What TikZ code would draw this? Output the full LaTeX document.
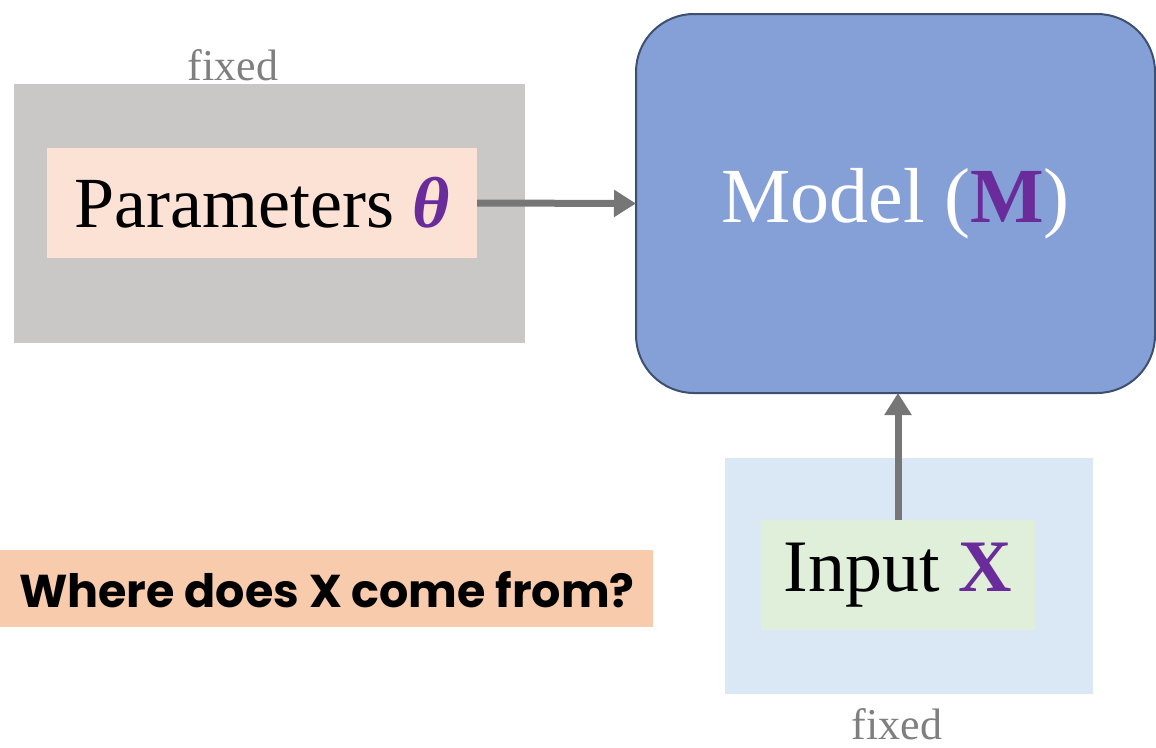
\documentclass[tikz,border=0pt]{standalone}
\usepackage{fontspec}
\setmainfont{Liberation Serif}
\newfontfamily\questionfont{Poppins}
\usetikzlibrary{arrows.meta}

\definecolor{panelgray}{HTML}{C9C8C7}
\definecolor{peach}{HTML}{FBE2D5}
\definecolor{modelblue}{HTML}{85A0D6}
\definecolor{modeledge}{HTML}{3E5070}
\definecolor{paleblue}{HTML}{DAE7F5}
\definecolor{palegreen}{HTML}{E0EFD9}
\definecolor{questionbg}{HTML}{F7CBAC}
\definecolor{accent}{HTML}{6A2C9A}
\definecolor{arrowgray}{HTML}{767676}
\definecolor{labelgray}{HTML}{7F7F7F}

\tikzset{
  panel/.style={draw=none, inner sep=0pt},
  labelbox/.style={draw=none, inner sep=0pt},
  fixedlabel/.style={text=labelgray, inner sep=0pt, font=\fontsize{44}{46}\selectfont},
  flow/.style={draw=arrowgray, line width=7pt,
    -{Triangle[length=22pt, width=26pt]}, shorten >=-1pt},
}

\begin{document}
\begin{tikzpicture}[x=1pt, y=-1pt]
  \useasboundingbox (0,0) rectangle (1156,747);

  % parameter block
  \node[panel, fill=panelgray, minimum width=511pt, minimum height=259pt]
    (paramsbg) at (269.5,213.5) {};
  \node[labelbox, fill=peach, minimum width=430pt, minimum height=110pt,
        font=\fontsize{72}{76}\selectfont]
    (params) at (262,203) {Parameters \textcolor{accent}{\bfseries\itshape θ}};
  \node[fixedlabel, anchor=base] (fixtop) at (233,80) {fixed};

  % model block
  \node[draw=modeledge, line width=2pt, fill=modelblue, rounded corners=58pt,
        minimum width=519pt, minimum height=379pt, inner sep=0pt,
        text=white, font=\fontsize{78}{82}\selectfont]
    (model) at (895.5,203.5) {Model (\textcolor{accent}{\textbf{M}})};

  % input block
  \node[panel, fill=paleblue, minimum width=368pt, minimum height=236pt]
    (inputbg) at (909,576) {};
  \node[labelbox, fill=palegreen, minimum width=274pt, minimum height=110pt,
        font=\fontsize{74}{78}\selectfont]
    (input) at (898,575) {Input \textcolor{accent}{\textbf{X}}};
  \node[fixedlabel, anchor=base] (fixbot) at (897,739) {fixed};

  % question banner
  \node[panel, fill=questionbg, minimum width=653pt, minimum height=77pt]
    (question) at (326.5,588.5) {};
  \node[inner sep=0pt, anchor=west, font=\questionfont\bfseries\fontsize{46}{50}\selectfont]
    (qtext) at (19,590) {Where does X come from?};

  % connectors
  \draw[flow] (params.east) -- (model.west);
  \draw[flow] (input.north) -- (input.north |- model.south);
\end{tikzpicture}
\end{document}
